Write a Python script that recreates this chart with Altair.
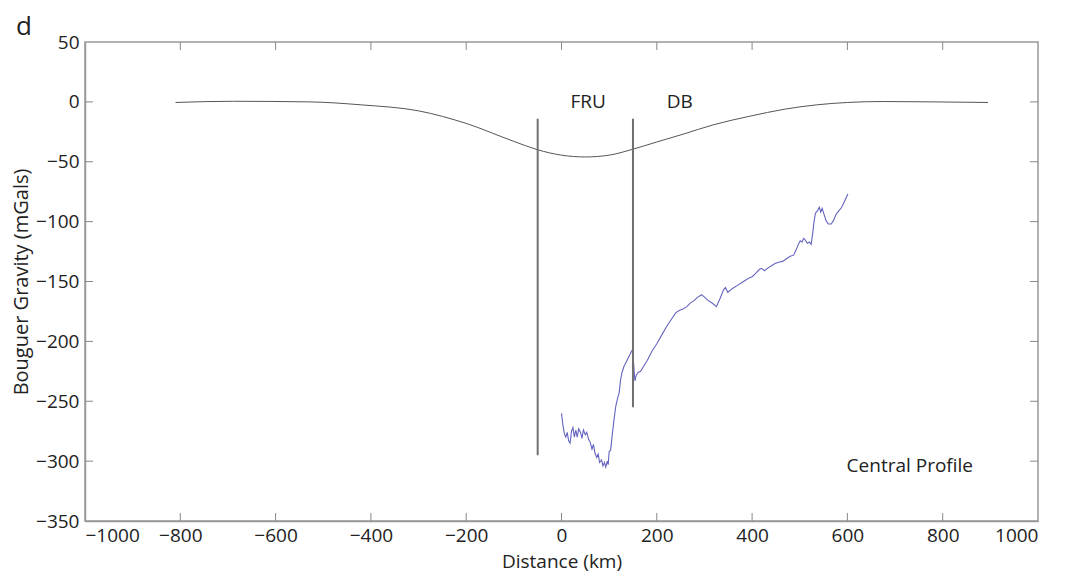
import altair as alt
import pandas as pd

# model curve (calculated anomaly)
model_x = [-810, -690, -530, -420, -300, -200, -100, -50, 0, 50, 100, 150, 200, 255, 320, 395, 470,
           535, 600, 675, 780, 895]
model_y = [-0.5, 0.5, 0, -2.5, -7.5, -18, -33, -40, -44.5, -46, -44.5, -39.5, -33.5, -27, -19, -12,
           -6, -2.5, -0.5, 0.3, 0, -0.5]

# observed central profile
prof_x = [0, 3, 6, 9, 12, 15, 18, 21, 24, 27, 30, 33, 36, 40, 43, 46, 50, 53, 57, 60, 64, 67, 70,
          74, 77, 80, 84, 87, 90, 93, 96, 98, 100, 103, 106, 110, 114, 118, 121, 124, 127, 131,
          136, 141, 146, 149, 152, 154, 157, 161, 166, 172, 180, 190, 200, 210, 220, 230, 240,
          248, 255, 263, 270, 278, 286, 294, 300, 308, 316, 325, 333, 340, 344, 349, 355, 362,
          370, 378, 386, 394, 400, 408, 415, 420, 426, 432, 440, 448, 456, 465, 472, 480, 487,
          492, 497, 501, 505, 508, 511, 516, 520, 524, 527, 530, 533, 537, 541, 544, 547, 551,
          555, 560, 566, 571, 576, 582, 588, 594, 601]
prof_y = [-260, -270, -277, -280, -276, -283, -285, -275, -272, -280, -274, -280, -273, -276, -281,
          -274, -278, -276, -282, -284, -290, -286, -293, -297, -294, -301, -299, -304, -301, -305,
          -300, -303, -292, -291, -280, -266, -254, -247, -243, -232, -226, -221, -217, -213, -209,
          -207, -222, -233, -228, -226, -225, -221, -216, -208, -202, -195, -188, -182, -176, -174,
          -173, -171, -168, -166, -163, -161, -163, -166, -168, -171, -164, -157, -155, -159, -157,
          -155, -153, -151, -149, -147, -146, -143, -140, -139, -141, -139, -137, -135, -134, -133,
          -131, -129, -128, -124, -119, -116, -117, -114, -115, -118, -117, -119, -110, -100, -93,
          -91, -88, -92, -89, -94, -99, -102, -102, -99, -94, -91, -88, -83, -77]

# boundary lines
bound_x = [-50, 150]
bound_top = [-14, -14]
bound_bot = [-295, -255]

# labels
label_text = ["FRU", "DB", "Central Profile"]
label_x = [56, 248, 731]
label_y = [0, 0, -304]

panel_label = ["d"]

x_ticks = [-1000, -800, -600, -400, -200, 0, 200, 400, 600, 800, 1000]
y_ticks = [-350, -300, -250, -200, -150, -100, -50, 0, 50]

FONT = "Open Sans"
W, H = 953, 479
xs = alt.Scale(domain=[-1000, 1000], nice=False, zero=False)
ys = alt.Scale(domain=[-350, 50], nice=False, zero=False)
tick_px = 8
tx = tick_px * 2000 / W
ty = tick_px * 400 / H

model_df = pd.DataFrame({"x": model_x, "y": model_y})
prof_df = pd.DataFrame({"x": prof_x, "y": prof_y})
bound_df = pd.DataFrame({"x": bound_x, "y": bound_top, "y2": bound_bot})
lab_df = pd.DataFrame({"t": label_text, "x": label_x, "y": label_y})
panel_df = pd.DataFrame({"t": panel_label})

base_x = alt.X("x:Q", scale=xs, axis=alt.Axis(title="Distance (km)", values=x_ticks, grid=False,
                                            format="d", ticks=False, labelPadding=5,
                                            titlePadding=7, titleFontSize=19))
base_y = alt.Y("y:Q", scale=ys, axis=alt.Axis(title="Bouguer Gravity (mGals)", values=y_ticks,
                                            format="d", grid=False, ticks=False, labelPadding=6,
                                            titlePadding=4, titleFontSize=20))

model = alt.Chart(model_df).mark_line(color="#555555", strokeWidth=1, interpolate="monotone").encode(
    x=base_x, y=base_y)
prof = alt.Chart(prof_df).mark_line(color="#6464c0", strokeWidth=1.1).encode(x="x:Q", y="y:Q")
bounds = alt.Chart(bound_df).mark_rule(color="#707070", strokeWidth=2).encode(
    x="x:Q", y="y:Q", y2="y2:Q")
labels = alt.Chart(lab_df).mark_text(font=FONT, fontSize=19, color="#222222").encode(
    x="x:Q", y="y:Q", text="t:N")
panel = alt.Chart(panel_df).mark_text(font=FONT, fontSize=26, color="#222222").encode(
    x=alt.value(-61), y=alt.value(-15), text="t:N")

# inward ticks on all four sides
xt = [v for v in x_ticks if -1000 < v < 1000]
yt = [v for v in y_ticks if -350 < v < 50]
bt = pd.DataFrame({"x": xt, "y": [-350] * len(xt), "y2": [-350 + ty] * len(xt)})
tt = pd.DataFrame({"x": xt, "y": [50] * len(xt), "y2": [50 - ty] * len(xt)})
lt = pd.DataFrame({"y": yt, "x": [-1000] * len(yt), "x2": [-1000 + tx] * len(yt)})
rt = pd.DataFrame({"y": yt, "x": [1000] * len(yt), "x2": [1000 - tx] * len(yt)})
tick_color = "#888888"
ticks = [
    alt.Chart(bt).mark_rule(color=tick_color, strokeWidth=1).encode(x="x:Q", y="y:Q", y2="y2:Q"),
    alt.Chart(tt).mark_rule(color=tick_color, strokeWidth=1).encode(x="x:Q", y="y:Q", y2="y2:Q"),
    alt.Chart(lt).mark_rule(color=tick_color, strokeWidth=1).encode(x="x:Q", x2="x2:Q", y="y:Q"),
    alt.Chart(rt).mark_rule(color=tick_color, strokeWidth=1).encode(x="x:Q", x2="x2:Q", y="y:Q"),
]

chart = alt.layer(model, prof, bounds, labels, panel, *ticks).properties(
    width=W, height=H,
    autosize=alt.AutoSizeParams(type="none"),
    padding={"left": 77, "top": 34, "right": 24, "bottom": 58},
).configure_view(stroke="#999999", strokeWidth=1.5).configure_axis(
    domainColor="#999999", domainWidth=1.5, labelFont=FONT, titleFont=FONT, labelFontSize=19,
    labelColor="#222222", titleColor="#222222", titleFontWeight="normal"
)

chart.save("out.html", embed_options={"renderer": "svg", "actions": False})
